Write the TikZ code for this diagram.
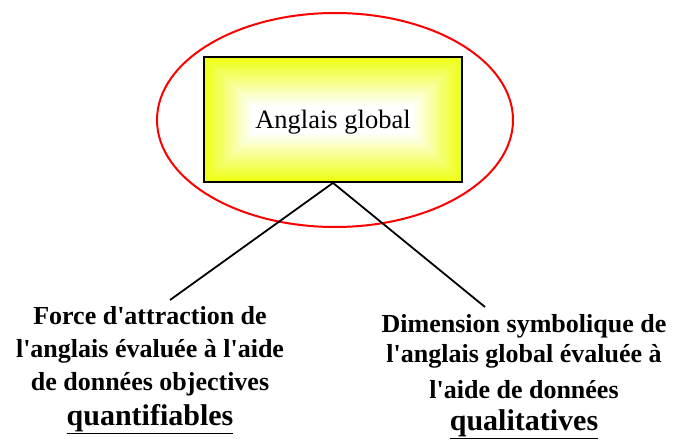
\documentclass[tikz,border=0pt]{standalone}
\usepackage{fontspec}
\setmainfont{Liberation Serif}[Ligatures=TeXOff]
\definecolor{boxlime}{RGB}{238,255,20}

\begin{document}
\begin{tikzpicture}[x=1pt, y=-1pt, every node/.style={inner sep=0pt}]
  \tikzset{
    labeltext/.style={align=center, font=\bfseries\fontsize{26}{33}\selectfont},
    tie/.style={line width=1.8pt},
  }
  \useasboundingbox (0,0) rectangle (675,441);
  % red ring round the central box
  \draw[red, line width=2pt] (335,120) ellipse [x radius=178, y radius=107];
  % box fill: lime at the rim, white towards the centre
  \foreach \i in {0,...,25} {
    \pgfmathtruncatemacro{\shade}{max(0,100-5*\i)}
    \fill[boxlime!\shade!white] (204+2.4*\i,57+2.4*\i) rectangle (462-2.4*\i,182-2.4*\i);
  }
  \node[draw, line width=1.8pt, minimum width=258pt, minimum height=125pt,
        text height=20pt, text depth=2pt, font=\fontsize{26.5}{30}\selectfont] (box) at (333,119.5) {Anglais global};
  % the two branches
  \coordinate (leftend) at (170,300);
  \coordinate (rightend) at (485,307);
  \draw[tie] (box.south) -- (leftend);
  \draw[tie] (box.south) -- (rightend);
  % texts under the branches (base = last line)
  \node[labeltext, anchor=base] (objective) at (150,425) {Force d'attraction de\\ l'anglais évaluée à l'aide\\ de données objectives\\[2pt] {\fontsize{30}{33}\selectfont\underline{quantifiables}}};
  \node[labeltext, anchor=base] (qualitative) at (524,430) {Dimension symbolique de\\[-3pt] l'anglais global évaluée à\\[3pt] l'aide de données\\[-1pt] {\fontsize{30}{33}\selectfont\underline{qualitatives}}};
\end{tikzpicture}
\end{document}
